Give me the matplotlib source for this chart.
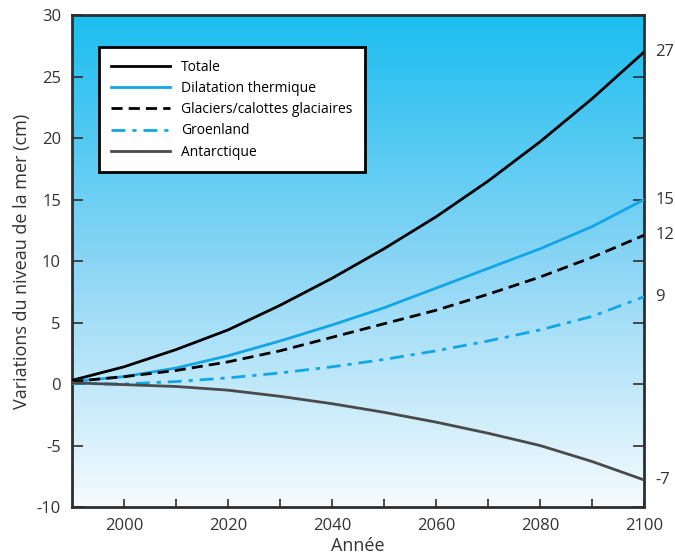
import numpy as np
import matplotlib
matplotlib.use("Agg")
import matplotlib.pyplot as plt
from matplotlib.colors import LinearSegmentedColormap

plt.rcParams['font.family'] = ['Open Sans', 'DejaVu Sans']
plt.rcParams['axes.unicode_minus'] = False

# valeurs (cm), une par décennie
annees = [1990, 2000, 2010, 2020, 2030, 2040, 2050, 2060, 2070, 2080, 2090, 2100]
totale = [0.3, 1.4, 2.8, 4.4, 6.4, 8.6, 11.0, 13.6, 16.5, 19.7, 23.2, 27.0]
dilatation = [0.2, 0.6, 1.3, 2.3, 3.5, 4.8, 6.2, 7.8, 9.4, 11.0, 12.8, 15.0]
glaciers = [0.2, 0.6, 1.1, 1.8, 2.7, 3.8, 4.9, 6.0, 7.3, 8.7, 10.3, 12.1]
groenland = [0.05, 0.0, 0.2, 0.5, 0.9, 1.4, 2.0, 2.7, 3.5, 4.4, 5.5, 7.1]
antarctique = [0.1, -0.05, -0.2, -0.5, -1.0, -1.6, -2.3, -3.1, -4.0, -5.0, -6.3, -7.8]
etiquettes_fin = ['27', '15', '12', '9', '-7']

fig = plt.figure(figsize=(6.75, 5.57), dpi=100)
ax = fig.add_axes([0.1067, 0.0898, 0.8474, 0.883])

# fond dégradé bleu (haut) -> blanc (bas)
cmap = LinearSegmentedColormap.from_list('fond', ['#1bbef0', '#8ad5f5', '#f6fbfe'])
grad = np.linspace(0, 1, 256).reshape(-1, 1)
ax.imshow(grad, cmap=cmap, aspect='auto', extent=[1990, 2100, -10, 30],
          origin='upper', zorder=0, interpolation='bicubic')

bleu = '#12a6e6'
ax.plot(annees, totale, color='black', lw=2, label='Totale', zorder=3)
ax.plot(annees, dilatation, color=bleu, lw=2, label='Dilatation thermique', zorder=3)
ax.plot(annees, glaciers, color='black', lw=2, dashes=(4, 2.2),
        label='Glaciers/calottes glaciaires', zorder=3)
ax.plot(annees, groenland, color=bleu, lw=2, dashes=(5, 2.5, 1.5, 2.5),
        label='Groenland', zorder=3)
ax.plot(annees, antarctique, color='#4a4a4a', lw=2, label='Antarctique', zorder=3)

ax.set_xlim(1990, 2100)
ax.set_ylim(-10, 30)

gris = '#2e2e2e'
for s in ax.spines.values():
    s.set_color(gris)
    s.set_linewidth(2)

ax.set_xticks([2000, 2020, 2040, 2060, 2080, 2100])
ax.set_xticks([2010, 2030, 2050, 2070, 2090], minor=True)
ax.set_yticks(np.arange(-10, 31, 5))
ax.tick_params(axis='x', which='both', direction='in', length=6, width=1.2,
               color=gris, labelsize=12, labelcolor='#333333', pad=8)
ax.tick_params(axis='y', direction='in', length=8, width=1.2, color=gris,
               labelsize=12, labelcolor='#333333', right=True, pad=8)

ax.set_xlabel('Année', fontsize=13, color='#333333', labelpad=2)
ax.set_ylabel('Variations du niveau de la mer (cm)', fontsize=13,
              color='#333333', labelpad=4)

# étiquettes en bout de courbe
fins = [totale[-1], dilatation[-1], glaciers[-1], groenland[-1], antarctique[-1]]
for v, t in zip(fins, etiquettes_fin):
    ax.annotate(t, xy=(2100, v), xytext=(8, 0), textcoords='offset points',
                va='center', ha='left', fontsize=12, color='#333333',
                annotation_clip=False)

leg = ax.legend(loc='upper left', bbox_to_anchor=(0.047, 0.935), fontsize=10,
                handlelength=4.2, fancybox=False, framealpha=1,
                edgecolor='black', borderpad=0.9, labelspacing=0.45,
                handletextpad=0.8, borderaxespad=0)
leg.get_frame().set_linewidth(2)

fig.savefig('out.png', dpi=100)
